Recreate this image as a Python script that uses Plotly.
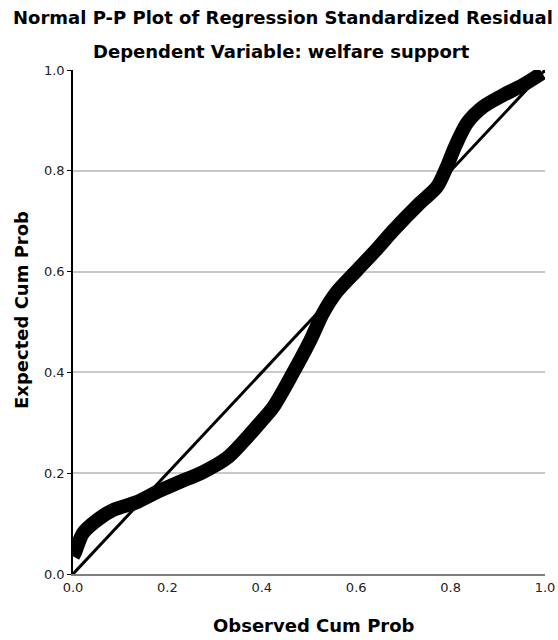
import plotly.graph_objects as go

# Observed vs expected cumulative probabilities
observed = [0.0, 0.004, 0.021, 0.051, 0.085, 0.136, 0.178, 0.227, 0.275, 0.326,
            0.360, 0.396, 0.424, 0.466, 0.502, 0.530, 0.559, 0.602, 0.644,
            0.677, 0.735, 0.771, 0.792, 0.809, 0.835, 0.869, 0.911, 0.953, 0.994]
expected = [0.035, 0.042, 0.081, 0.107, 0.127, 0.143, 0.163, 0.183, 0.202, 0.230,
            0.262, 0.300, 0.331, 0.399, 0.462, 0.518, 0.560, 0.603, 0.645,
            0.680, 0.736, 0.768, 0.808, 0.847, 0.895, 0.927, 0.950, 0.970, 0.994]
diag = [0.0, 1.0]
ticks = [0.0, 0.2, 0.4, 0.6, 0.8, 1.0]
tick_labels = ["0.0", "0.2", "0.4", "0.6", "0.8", "1.0"]

font_family = "DejaVu Sans"

W, H = 558, 640
L, T = 73, 70
R = W - 545
B = H - 574
plot_w = W - L - R
plot_h = H - T - B

def px_x(px):
    return (px - L) / plot_w

def px_y(py):
    return (H - B - py) / plot_h

fig = go.Figure()
fig.add_trace(go.Scatter(x=observed, y=expected, mode="lines",
                         line=dict(color="black", width=14, shape="spline", smoothing=0.8),
                         hoverinfo="skip", showlegend=False, cliponaxis=False))
fig.add_trace(go.Scatter(x=diag, y=diag, mode="lines",
                         line=dict(color="black", width=3),
                         hoverinfo="skip", showlegend=False))

fig.update_layout(
    template="none",
    width=W, height=H,
    margin=dict(l=L, r=R, t=T, b=B, pad=0),
    paper_bgcolor="white", plot_bgcolor="white",
    font=dict(family=font_family, color="#222222"),
    showlegend=False,
)

fig.add_annotation(text="<b>Normal P-P Plot of Regression Standardized Residual</b>",
                   x=px_x(283), y=px_y(18), xref="paper", yref="paper",
                   showarrow=False, xanchor="center", yanchor="middle",
                   font=dict(size=18, color="black", family=font_family))
fig.add_annotation(text="<b>Dependent Variable: welfare support</b>",
                   x=px_x(281), y=px_y(52), xref="paper", yref="paper",
                   showarrow=False, xanchor="center", yanchor="middle",
                   font=dict(size=18, color="black", family=font_family))
fig.add_annotation(text="<b>Observed Cum Prob</b>",
                   x=px_x(314), y=px_y(625), xref="paper", yref="paper",
                   showarrow=False, xanchor="center", yanchor="middle",
                   font=dict(size=18, color="black", family=font_family))
fig.add_annotation(text="<b>Expected Cum Prob</b>",
                   x=px_x(21), y=px_y(310), xref="paper", yref="paper",
                   showarrow=False, xanchor="center", yanchor="middle", textangle=-90,
                   font=dict(size=18, color="black", family=font_family))

fig.update_xaxes(range=[0, 1], tickvals=ticks, ticktext=tick_labels, automargin=False,
                 showgrid=False, zeroline=False, showline=True, linecolor="#7f7f7f",
                 linewidth=2, ticks="", tickfont=dict(size=13, color="#222222"),
                 fixedrange=True)
fig.update_yaxes(range=[0, 1], tickvals=ticks, ticktext=tick_labels, automargin=False,
                 showgrid=True, gridcolor="#c8c8c8", gridwidth=1.5, zeroline=False,
                 showline=True, linecolor="black", linewidth=1.5,
                 ticks="outside", ticklen=4, tickcolor="black",
                 tickfont=dict(size=13, color="#222222"), fixedrange=True)

fig.write_html("out.html", config={"displayModeBar": False},
               post_script="document.body.style.margin='0';document.body.style.overflow='hidden';")
